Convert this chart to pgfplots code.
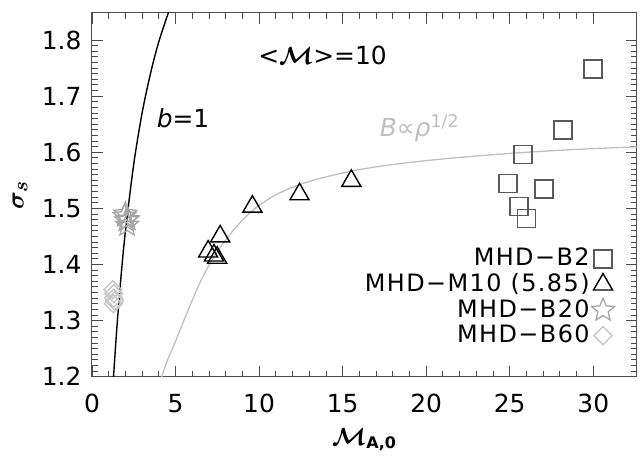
\documentclass[border=0pt]{standalone}
\usepackage{fontspec}
\setmainfont{DejaVu Sans}
\usepackage{amsmath,bm}
\usepackage{pgfplots}
\pgfplotsset{compat=1.18}
\pgfdeclareplotmark{ostar}{%
  \pgfpathmoveto{\pgfpointpolar{90}{\pgfplotmarksize}}%
  \pgfpathlineto{\pgfpointpolar{126}{0.45\pgfplotmarksize}}%
  \pgfpathlineto{\pgfpointpolar{162}{\pgfplotmarksize}}%
  \pgfpathlineto{\pgfpointpolar{198}{0.45\pgfplotmarksize}}%
  \pgfpathlineto{\pgfpointpolar{234}{\pgfplotmarksize}}%
  \pgfpathlineto{\pgfpointpolar{270}{0.45\pgfplotmarksize}}%
  \pgfpathlineto{\pgfpointpolar{306}{\pgfplotmarksize}}%
  \pgfpathlineto{\pgfpointpolar{342}{0.45\pgfplotmarksize}}%
  \pgfpathlineto{\pgfpointpolar{18}{\pgfplotmarksize}}%
  \pgfpathlineto{\pgfpointpolar{54}{0.45\pgfplotmarksize}}%
  \pgfpathclose
  \pgfusepathqstroke}
\begin{document}
\fontsize{25}{27}\selectfont
\begin{tikzpicture}
\begin{axis}[
  scale only axis, width=544.7bp, height=363.7bp,
  xmin=0, xmax=32.6, ymin=1.2, ymax=1.848,
  xtick={0,5,10,15,20,25,30}, ytick={1.2,1.3,1.4,1.5,1.6,1.7,1.8},
  minor x tick num=4, minor y tick num=9,
  tick align=inside, major tick length=11bp, minor tick length=6bp,
  axis line style={black!70, line width=1bp},
  every tick/.style={black!70, line width=0.8bp},
  tick label style={font=\fontsize{25}{27}\selectfont},
  /pgf/number format/assume math mode=true,
  yticklabel style={/pgf/number format/fixed, /pgf/number format/precision=1, /pgf/number format/fixed zerofill, xshift=-2bp},
  xticklabel style={yshift=-9bp},
  xlabel={$\bm{\mathcal{M}}_{\textbf{\fontsize{16}{18}\selectfont A,0}}$},
  ylabel={$\bm{\sigma}_{\bm{s}}$},
  xlabel style={at={(axis description cs:0.5,-0.173)}, anchor=center},
  ylabel style={at={(axis description cs:-0.132,0.5)}, anchor=center, font=\fontsize{28}{30}\selectfont},
  legend style={draw=none, fill=none, at={(rel axis cs:0.965,0.365)}, anchor=north east,
    font=\fontsize{24}{24}\selectfont\addfontfeature{LetterSpace=6}, row sep=0bp},
  legend cell align=right, legend plot pos=right,
]
\addplot[black, line width=1.4bp, smooth, forget plot] coordinates {
 (1.25,1.181)(1.3,1.205)(1.5,1.292)(1.75,1.383)(2,1.459)(2.5,1.579)(3,1.670)(3.5,1.740)(4,1.797)(4.6,1.851)};
\addplot[black!25, line width=1.3bp, smooth, forget plot] coordinates {
 (4.1,1.194)(4.5,1.228)(5.07,1.268)(5.7,1.315)(6.47,1.368)(7.3,1.414)(8.46,1.461)(9.65,1.497)(11,1.524)(12.5,1.543)(14,1.556)(16,1.569)(18,1.578)(20,1.585)(22.5,1.592)(25.6,1.599)(29,1.605)(33,1.610)};
\addplot[only marks, mark=square, mark size=9bp, draw=black!65, line width=1.6bp] coordinates {
 (29.98,1.748)(28.18,1.640)(25.78,1.596)(24.9,1.544)(27.04,1.534)(25.56,1.503)(26.0,1.482)};
\addlegendentry{MHD−B2}
\addplot[only marks, mark=triangle, mark size=11bp, draw=black, line width=1.4bp] coordinates {
 (7.67,1.450)(6.95,1.423)(7.3,1.416)(7.49,1.412)(9.6,1.503)(12.42,1.525)(15.52,1.549)};
\addlegendentry{MHD−M10 (5.85)}
\addplot[only marks, mark=ostar, mark size=12bp, draw=black!35, line width=1.3bp] coordinates {
 (1.95,1.486)(2.05,1.478)(2.1,1.470)(2.0,1.490)(2.15,1.480)};
\addlegendentry{MHD−B20}
\addplot[only marks, mark=square, mark size=6.4bp, mark options={rotate=45}, draw=black!22, line width=1.4bp] coordinates {
 (1.25,1.355)(1.3,1.348)(1.3,1.340)(1.35,1.335)(1.28,1.330)};
\addlegendentry{MHD−B60}
\node[font=\fontsize{25}{27}\selectfont] at (axis cs:13.8,1.773) {<$\bm{\mathcal{M}}$>=10};
\node[font=\fontsize{25}{27}\selectfont] at (axis cs:5.45,1.661) {\textit{b}=1};
\node[font=\fontsize{25}{27}\selectfont, text=black!25] at (axis cs:19.6,1.643) {\textit{B}∝\textit{ρ}\textsuperscript{1/2}};
\end{axis}
\pgfresetboundingbox
\path[use as bounding box] ([shift={(-92bp,-81.3bp)}]current axis.south west) rectangle ([shift={(4.3bp,13bp)}]current axis.north east);
\end{tikzpicture}
\end{document}
